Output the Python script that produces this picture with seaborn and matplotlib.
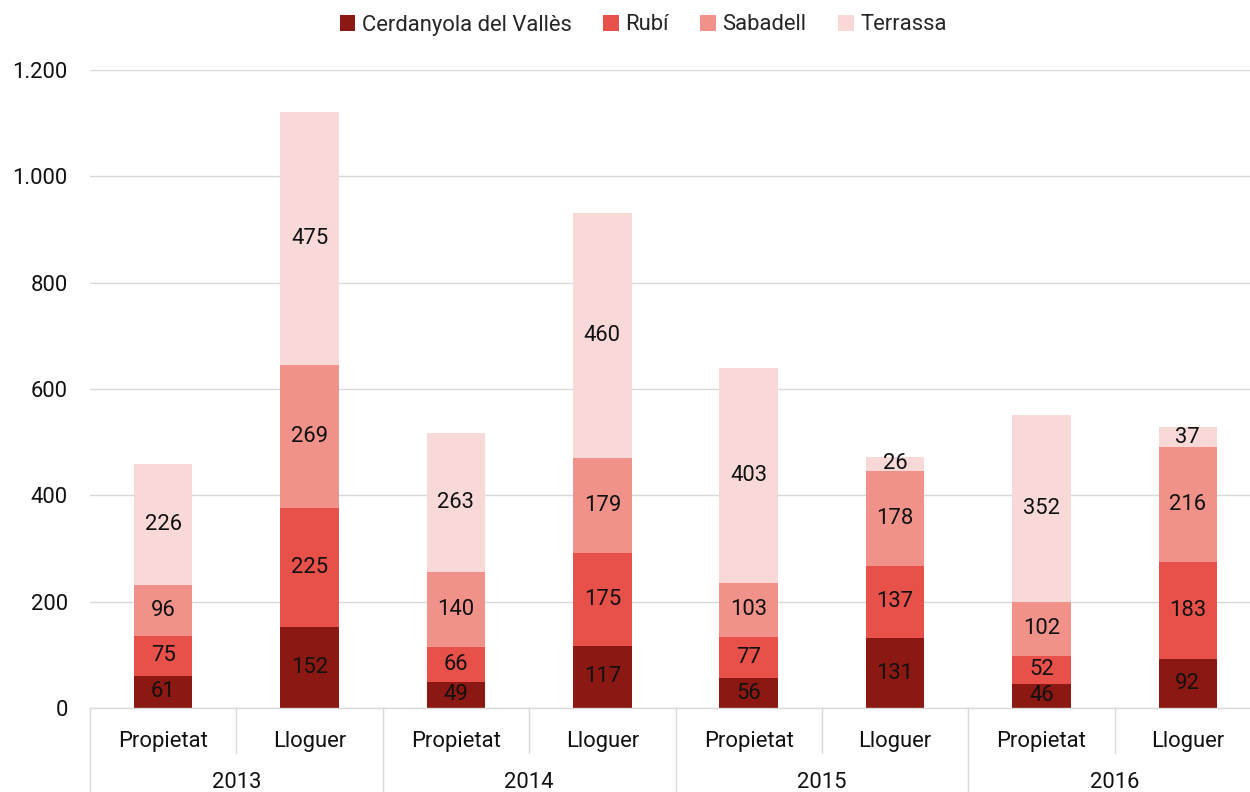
import matplotlib
matplotlib.use("Agg")
import matplotlib.pyplot as plt
import matplotlib.transforms as mtransforms
from matplotlib.patches import Patch
import numpy as np
import pandas as pd
import seaborn as sns

years = ["2013", "2014", "2015", "2016"]
tenures = ["Propietat", "Lloguer"]
series_names = ["Cerdanyola del Vallès", "Rubí", "Sabadell", "Terrassa"]
cerdanyola = [61, 152, 49, 117, 56, 131, 46, 92]
rubi = [75, 225, 66, 175, 77, 137, 52, 183]
sabadell = [96, 269, 140, 179, 103, 178, 102, 216]
terrassa = [226, 475, 263, 460, 403, 26, 352, 37]
colors = ["#8B1812", "#E8504A", "#F0928A", "#F9D9D8"]
y_ticks = [0, 200, 400, 600, 800, 1000, 1200]

sns.set_theme(style="white")
plt.rcParams["font.family"] = ["Roboto", "DejaVu Sans"]
FS = 15.8

slots = [f"{y}-{t}" for y in years for t in tenures]
df = pd.DataFrame({"slot": slots})
values = [cerdanyola, rubi, sabadell, terrassa]

fig = plt.figure(figsize=(12.5, 7.92), dpi=100)
ax = fig.add_axes([90 / 1250, 1 - 708 / 792, 1171 / 1250, (708 - 70) / 792])

bottom = np.zeros(len(slots))
for name, vals, col in zip(series_names, values, colors):
    d = df.copy()
    d["v"] = vals
    sns.barplot(data=d, x="slot", y="v", color=col, width=0.40, bottom=bottom,
                saturation=1, ax=ax, linewidth=0, order=slots)
    for i, v in enumerate(vals):
        ax.text(i, bottom[i] + v / 2, f"{v}", ha="center", va="center",
                fontsize=FS, color="#111111")
    bottom = bottom + np.array(vals)

ax.set_xlim(-0.5, 7.5)
ax.set_ylim(0, 1200)
ax.set_yticks(y_ticks)
ax.set_yticklabels([f"{t:,}".replace(",", ".") for t in y_ticks], fontsize=FS, color="#111111")
ax.tick_params(axis="y", length=0, pad=16)
ax.yaxis.grid(True, color="#D9D9D9", linewidth=1)
ax.set_axisbelow(True)
ax.set_xticks([])
ax.set_xlabel("")
ax.set_ylabel("")
for s in ["left", "right", "top"]:
    ax.spines[s].set_visible(False)
ax.spines["bottom"].set_color("#D9D9D9")
ax.spines["bottom"].set_linewidth(1)

# two-level category axis
trans = mtransforms.blended_transform_factory(ax.transData, fig.transFigure)
y_axis = 1 - 708 / 792
y_short = 1 - 753 / 792
y_long = 0.0
for i in range(len(slots) + 1):
    xpos = i - 0.5
    y_end = y_long if i % 2 == 0 else y_short
    ax.plot([xpos, xpos], [y_axis, y_end], transform=trans, color="#D9D9D9",
            linewidth=1, clip_on=False)
for i, s in enumerate(slots):
    ax.text(i, 1 - 741 / 792, s.split("-")[1], transform=trans, ha="center",
            va="center", fontsize=FS, color="#111111")
for j, y in enumerate(years):
    ax.text(2 * j + 0.5, 1 - 782 / 792, y, transform=trans, ha="center",
            va="center", fontsize=FS, color="#111111")

handles = [Patch(facecolor=c, edgecolor="none", label=n) for n, c in zip(series_names, colors)]
fig.legend(handles=handles, loc="center", bbox_to_anchor=(0.5145, 1 - 25 / 792), ncol=4,
           frameon=False, fontsize=FS, handlelength=0.7, handleheight=0.7,
           handletextpad=0.3, columnspacing=1.45)

fig.savefig("out.png", dpi=100)
